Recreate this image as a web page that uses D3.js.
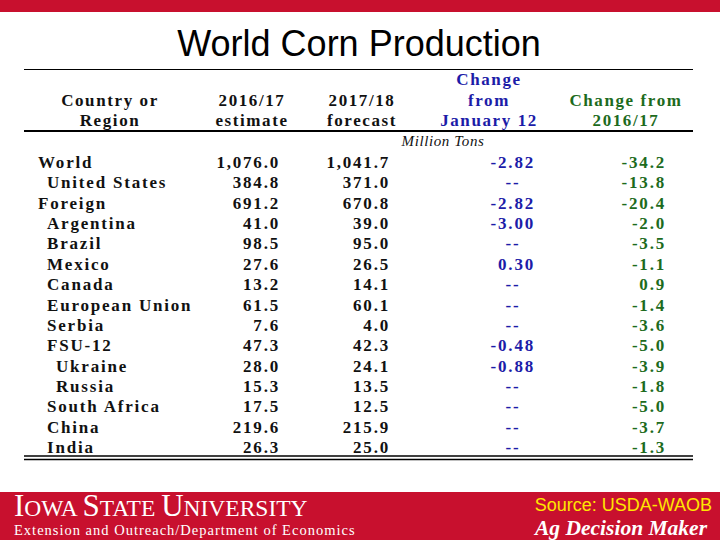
<!DOCTYPE html>
<html>
<head>
<meta charset="utf-8">
<script src="https://cdn.jsdelivr.net/npm/d3@7"></script>
<style>
  html, body { margin: 0; padding: 0; background: #fff; }
  svg { display: block; }
</style>
</head>
<body>
<div id="chart"></div>
<script>
// table data
var regions = ["World", "United States", "Foreign", "Argentina", "Brazil", "Mexico", "Canada",
    "European Union", "Serbia", "FSU-12", "Ukraine", "Russia", "South Africa", "China", "India"];
var indent = [0, 1, 0, 1, 1, 1, 1, 1, 1, 1, 2, 2, 1, 1, 1];
var est2016 = [1076.0, 384.8, 691.2, 41.0, 98.5, 27.6, 13.2, 61.5, 7.6, 47.3, 28.0, 15.3, 17.5, 219.6, 26.3];
var fcst2017 = [1041.7, 371.0, 670.8, 39.0, 95.0, 26.5, 14.1, 60.1, 4.0, 42.3, 24.1, 13.5, 12.5, 215.9, 25.0];
var chgJan = [-2.82, null, -2.82, -3.00, null, 0.30, null, null, null, -0.48, -0.88, null, null, null, null];
var chgYear = [-34.2, -13.8, -20.4, -2.0, -3.5, -1.1, 0.9, -1.4, -3.6, -5.0, -3.9, -1.8, -5.0, -3.7, -1.3];

var headers = [
    ["Country or", "Region"],
    ["2016/17", "estimate"],
    ["2017/18", "forecast"],
    ["Change", "from", "January 12"],
    ["Change from", "2016/17"]
];

var W = 720, H = 540;
var RED = "#c8102e", BLUE = "#1c1ca8", GREEN = "#1d6b1d";

var svg = d3.select("#chart").append("svg")
    .attr("width", W)
    .attr("height", H);

// top red strip
svg.append("rect").attr("x", 0).attr("y", 0).attr("width", W).attr("height", 12).attr("fill", RED);

svg.append("text")
    .attr("x", 359).attr("y", 56)
    .attr("text-anchor", "middle")
    .style("font-family", "'Liberation Sans', Arial, sans-serif")
    .style("font-size", "36px")
    .text("World Corn Production");

var tableLeft = 24, tableRight = 693;
var serif = "'Liberation Serif', 'Times New Roman', serif";

// rules
svg.append("line").attr("x1", tableLeft).attr("x2", tableRight).attr("y1", 69.5).attr("y2", 69.5)
    .attr("stroke", "#000").attr("stroke-width", 1);
svg.append("line").attr("x1", tableLeft).attr("x2", tableRight).attr("y1", 131).attr("y2", 131)
    .attr("stroke", "#000").attr("stroke-width", 2);
[456, 459.5].forEach(function (y) {
    svg.append("line").attr("x1", tableLeft).attr("x2", tableRight).attr("y1", y).attr("y2", y)
        .attr("stroke", "#000").attr("stroke-width", 1.5);
});

// header
var headCenter = [110, 252, 362, 489, 626];
var headColor = ["#111", "#111", "#111", BLUE, GREEN];
headers.forEach(function (lines, c) {
    var n = lines.length;
    lines.forEach(function (t, k) {
        svg.append("text")
            .attr("x", headCenter[c])
            .attr("y", 126 - (n - 1 - k) * 20.3)
            .attr("text-anchor", "middle")
            .style("font-family", serif)
            .style("font-weight", "bold")
            .style("font-size", "17px")
            .style("letter-spacing", "1.6px")
            .attr("fill", headColor[c])
            .text(t);
    });
});

svg.append("text")
    .attr("x", 443).attr("y", 146)
    .attr("text-anchor", "middle")
    .style("font-family", serif)
    .style("font-style", "italic")
    .style("font-size", "15px")
    .style("letter-spacing", "0.6px")
    .attr("fill", "#111")
    .text("Million Tons");

// rows
var y = d3.scalePoint().domain(regions).range([162, 447]);
var loc = d3.formatLocale({ decimal: ".", thousands: ",", grouping: [3], currency: ["$", ""], minus: "-" });
var f1 = loc.format(",.1f"), f2 = loc.format(".2f");

var rowData = regions.map(function (r, i) {
    return { region: r, level: indent[i], est: est2016[i], fc: fcst2017[i], jan: chgJan[i], yr: chgYear[i] };
});

var cols = [
    { x: function (d) { return 38 + d.level * 9; }, anchor: "start", color: "#111", text: function (d) { return d.region; } },
    { x: function () { return 280; }, anchor: "end", color: "#111", text: function (d) { return f1(d.est); } },
    { x: function () { return 390; }, anchor: "end", color: "#111", text: function (d) { return f1(d.fc); } },
    { x: function (d) { return d.jan === null ? 513 : 535; }, anchor: function (d) { return d.jan === null ? "middle" : "end"; },
        color: BLUE, text: function (d) { return d.jan === null ? "--" : f2(d.jan); } },
    { x: function () { return 666; }, anchor: "end", color: GREEN, text: function (d) { return f1(d.yr); } }
];

var rows = svg.selectAll("g.row").data(rowData).enter().append("g")
    .attr("class", "row")
    .attr("transform", function (d) { return "translate(0," + y(d.region) + ")"; });

cols.forEach(function (c) {
    rows.append("text")
        .attr("x", c.x)
        .attr("y", 6)
        .attr("text-anchor", c.anchor)
        .style("font-family", serif)
        .style("font-weight", "bold")
        .style("font-size", "17px")
        .style("letter-spacing", "1.8px")
        .attr("fill", c.color)
        .text(c.text);
});

// footer band
svg.append("rect").attr("x", 0).attr("y", 492).attr("width", W).attr("height", 48).attr("fill", RED);

var isu = svg.append("text")
    .attr("x", 14).attr("y", 516)
    .style("font-family", serif)
    .attr("fill", "#fff");
[["I", 31], ["OWA ", 23.5], ["S", 31], ["TATE ", 23.5], ["U", 31], ["NIVERSITY", 23.5]].forEach(function (p) {
    isu.append("tspan").style("font-size", p[1] + "px").text(p[0]);
});

svg.append("text")
    .attr("x", 14).attr("y", 535)
    .style("font-family", serif)
    .style("font-size", "14.5px")
    .style("letter-spacing", "1px")
    .attr("fill", "#fff")
    .text("Extension and Outreach/Department of Economics");

svg.append("text")
    .attr("x", 712).attr("y", 511)
    .attr("text-anchor", "end")
    .style("font-family", "'Liberation Sans', Arial, sans-serif")
    .style("font-size", "18px")
    .attr("fill", "#ffe600")
    .text("Source: USDA-WAOB");

svg.append("text")
    .attr("x", 707).attr("y", 535)
    .attr("text-anchor", "end")
    .style("font-family", serif)
    .style("font-style", "italic")
    .style("font-weight", "bold")
    .style("font-size", "21.5px")
    .attr("fill", "#fff")
    .text("Ag Decision Maker");
</script>
</body>
</html>
